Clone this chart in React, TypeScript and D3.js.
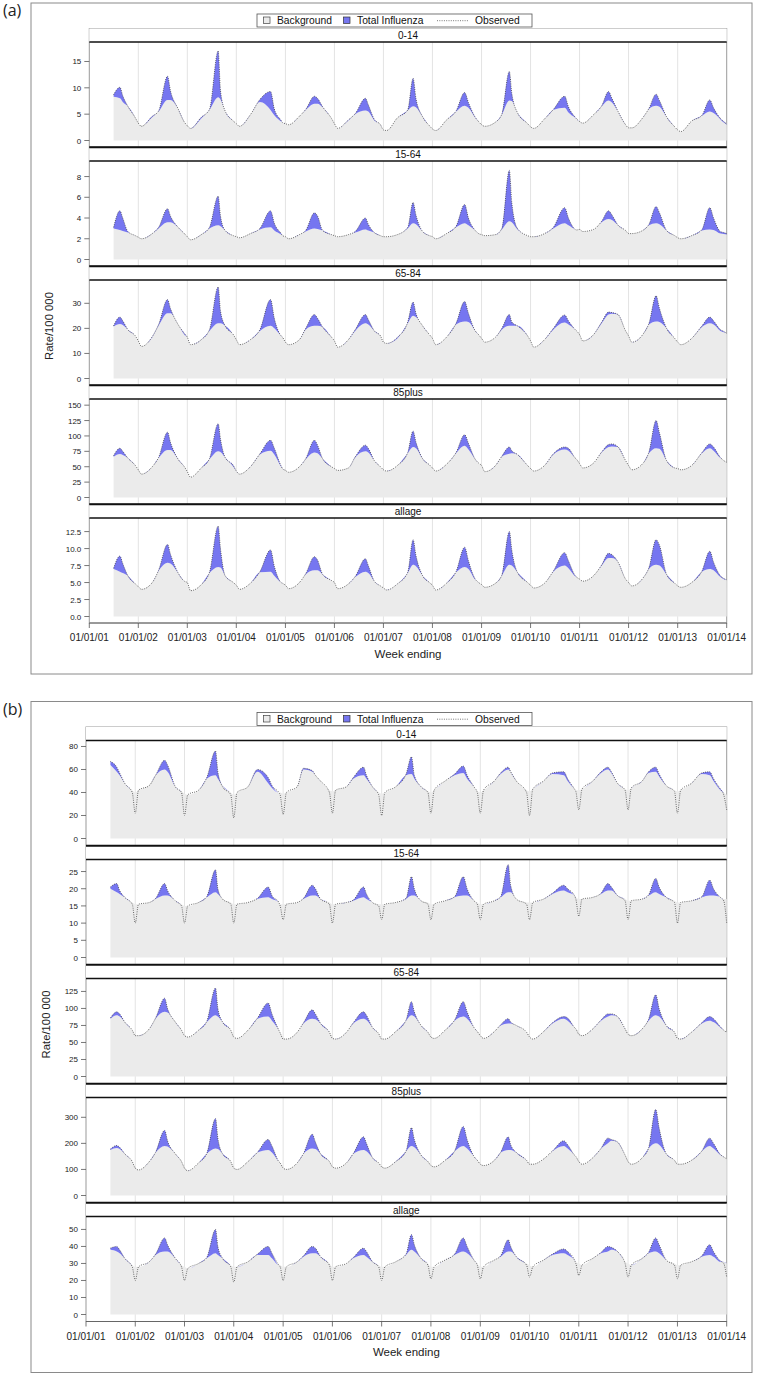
import * as d3 from 'd3';

const parse = d3.timeParse('%Y-%m-%d') as (s: string) => Date;

// flu season key dates: onset, peak, ~3 weeks after peak, end
const seasons = [
  ['2001-07-01', '2001-08-17', '2001-09-07', '2001-10-15'],
  ['2002-06-01', '2002-08-07', '2002-08-28', '2002-10-25'],
  ['2003-06-15', '2003-08-19', '2003-09-05', '2003-10-10'],
  ['2004-06-25', '2004-09-12', '2004-10-10', '2004-11-30'],
  ['2005-06-01', '2005-08-05', '2005-08-28', '2005-10-05'],
  ['2006-06-05', '2006-08-20', '2006-09-10', '2006-10-25'],
  ['2007-07-01', '2007-08-10', '2007-08-31', '2007-10-20'],
  ['2008-06-25', '2008-08-28', '2008-09-25', '2008-11-15'],
  ['2009-06-01', '2009-07-27', '2009-08-14', '2009-09-25'],
  ['2010-06-20', '2010-09-12', '2010-10-10', '2010-11-30'],
  ['2011-06-15', '2011-08-05', '2011-08-30', '2011-10-15'],
  ['2012-06-01', '2012-07-24', '2012-08-18', '2012-10-10'],
  ['2013-07-01', '2013-08-28', '2013-09-25', '2013-11-15'],
];

// sample dates: per year Jan 1, Jan 25, Apr 15, the 4 season dates, Dec 10
const sampleDates: Date[] = (() => {
  const out: string[] = [];
  seasons.forEach((s, i) => {
    const yr = s[1].slice(0, 4);
    if (i > 0) out.push(`${yr}-01-01`, `${yr}-01-25`, `${yr}-04-15`);
    out.push(...s, `${yr}-12-10`);
  });
  out.push('2014-01-01');
  return out.map(parse);
})();

// ---------- figure (a) ----------
const bgA014 = [
  [8.3, 8.0, 7.3, 6.5, 4.4],
  [3.3, 2.8, 4.4, 5.5, 7.7, 7.7, 6.0, 3.6],
  [2.8, 2.3, 4.2, 5.8, 8.2, 7.8, 5.6, 3.7],
  [3.2, 2.7, 4.9, 7.3, 5.8, 4.8, 3.6, 3.4],
  [3.2, 3.0, 4.6, 5.8, 7.0, 7.0, 6.3, 4.2],
  [3.2, 2.3, 3.8, 5.0, 5.7, 5.5, 3.8, 3.0],
  [2.0, 1.9, 4.3, 5.7, 6.5, 6.3, 4.5, 2.8],
  [2.2, 1.9, 3.9, 5.5, 6.6, 6.2, 4.3, 3.6],
  [3.0, 2.7, 3.5, 4.9, 7.6, 7.5, 5.3, 3.2],
  [2.6, 2.3, 4.1, 5.8, 6.2, 5.3, 4.3, 4.1],
  [3.6, 3.3, 4.9, 6.5, 7.6, 7.2, 5.5, 3.0],
  [2.4, 2.4, 4.3, 6.0, 6.6, 6.4, 4.5, 2.6],
  [2.0, 1.7, 3.7, 4.7, 5.5, 5.2, 4.0, 3.4],
  [3.0],
].flat();
const obsA014 = [
  [8.7, 10.1, 8.5, 6.5, 4.3],
  [3.3, 2.7, 4.6, 5.6, 12.2, 9.5, 6.0, 3.5],
  [2.8, 2.3, 4.4, 5.9, 17.0, 9.5, 5.6, 3.7],
  [3.2, 2.7, 4.9, 7.8, 9.3, 6.0, 3.8, 3.4],
  [3.2, 3.0, 4.6, 5.9, 8.4, 8.0, 6.4, 4.2],
  [3.2, 2.3, 3.9, 5.1, 8.0, 6.8, 4.0, 3.0],
  [2.0, 1.9, 4.3, 5.8, 11.8, 8.0, 4.5, 2.8],
  [2.2, 1.9, 3.9, 5.6, 9.1, 7.2, 4.4, 3.6],
  [3.0, 2.7, 3.5, 5.0, 13.1, 9.0, 5.3, 3.2],
  [2.6, 2.3, 4.1, 5.9, 8.4, 6.4, 4.4, 4.1],
  [3.6, 3.3, 4.9, 6.6, 9.3, 8.0, 5.5, 3.0],
  [2.4, 2.4, 4.3, 6.1, 8.8, 7.6, 4.5, 2.6],
  [2.0, 1.7, 3.7, 4.8, 7.7, 6.2, 4.2, 3.6],
  [3.1],
].flat();

const bgA1564 = [
  [3.0, 2.85, 2.75, 2.6, 2.3],
  [2.15, 2.0, 2.5, 3.0, 3.6, 3.6, 3.1, 2.5],
  [2.2, 1.9, 2.4, 3.0, 3.3, 3.2, 2.8, 2.3],
  [2.2, 2.1, 2.5, 2.9, 3.1, 2.8, 2.4, 2.3],
  [2.2, 2.0, 2.4, 2.7, 3.0, 2.95, 2.8, 2.4],
  [2.3, 2.2, 2.4, 2.6, 2.9, 2.8, 2.6, 2.3],
  [2.2, 2.2, 2.4, 3.0, 3.5, 3.4, 2.7, 2.3],
  [2.2, 2.0, 2.5, 3.1, 3.5, 3.3, 2.8, 2.5],
  [2.4, 2.3, 2.4, 2.9, 3.7, 3.6, 2.9, 2.3],
  [2.2, 2.2, 2.5, 3.0, 3.5, 3.3, 2.9, 2.85],
  [2.9, 2.7, 2.9, 3.6, 3.9, 3.8, 3.3, 2.8],
  [2.5, 2.5, 2.8, 3.3, 3.5, 3.4, 2.8, 2.3],
  [2.1, 2.0, 2.3, 2.8, 2.9, 2.85, 2.5, 2.45],
  [2.4],
].flat();
const obsA1564 = [
  [3.1, 4.7, 4.0, 2.7, 2.3],
  [2.15, 2.0, 2.5, 3.1, 4.9, 4.2, 3.1, 2.5],
  [2.2, 1.9, 2.4, 3.1, 6.1, 4.2, 2.8, 2.3],
  [2.2, 2.1, 2.5, 3.0, 4.7, 3.5, 2.5, 2.3],
  [2.2, 2.0, 2.4, 2.8, 4.5, 4.2, 2.8, 2.4],
  [2.3, 2.2, 2.4, 2.7, 4.0, 3.4, 2.6, 2.3],
  [2.2, 2.2, 2.4, 3.1, 5.5, 4.3, 2.7, 2.3],
  [2.2, 2.0, 2.5, 3.2, 5.3, 4.0, 2.8, 2.5],
  [2.4, 2.3, 2.4, 3.0, 8.6, 5.5, 3.0, 2.3],
  [2.2, 2.2, 2.5, 3.1, 5.0, 4.0, 2.9, 2.85],
  [2.9, 2.7, 2.9, 3.7, 4.7, 4.3, 3.3, 2.8],
  [2.5, 2.5, 2.8, 3.4, 5.1, 4.5, 2.8, 2.3],
  [2.1, 2.0, 2.3, 2.9, 5.0, 4.0, 2.7, 2.6],
  [2.5],
].flat();

const bgA6584 = [
  [20.7, 21.7, 21.3, 19.5, 17.0],
  [15.0, 12.8, 16.5, 21, 26, 26, 21.5, 17.5],
  [16.5, 13.5, 15.5, 19, 22, 22, 21, 17.5],
  [15.5, 13.5, 15.5, 19, 21, 20, 17, 16.5],
  [14.5, 13.5, 15.5, 19.5, 21, 21, 20.5, 16.5],
  [15, 12.5, 15.5, 19, 22, 21.5, 19, 17],
  [14.5, 14, 16, 22, 25, 24.5, 21, 17.5],
  [16, 13.5, 16.5, 21.5, 22.7, 22.5, 19, 17.5],
  [16, 14.5, 16.5, 19.5, 21, 21, 21, 17],
  [15, 12.5, 15.5, 19.5, 22.3, 21.5, 19.5, 19],
  [17.5, 15, 17.5, 22, 25.5, 25.8, 25.5, 19],
  [17, 14.5, 17.5, 21.5, 22.7, 22.5, 20, 16],
  [14.5, 13.5, 16, 20.5, 22, 21.5, 19, 18.5],
  [18],
].flat();
const obsA6584 = [
  [21, 24.5, 23, 19.5, 17.0],
  [15.0, 12.8, 16.7, 21.5, 31.5, 28, 21.5, 18],
  [16.5, 13.5, 15.5, 19.5, 36.5, 27, 21, 17.5],
  [15.5, 13.5, 15.5, 19.5, 31.5, 24, 17, 16.5],
  [14.5, 13.5, 15.5, 20, 25.5, 24, 20.5, 16.5],
  [15, 12.5, 15.5, 19.5, 25.5, 23.5, 19, 17],
  [14.5, 14, 16.4, 22.5, 30.5, 26, 21, 17.5],
  [16, 13.5, 16.5, 22, 30.7, 26, 19, 17.5],
  [16, 14.5, 16.5, 20, 25.5, 22.5, 21, 17],
  [15, 12.5, 15.5, 20, 25.3, 23, 19.5, 19],
  [17.5, 15, 17.5, 22.5, 26.5, 26.3, 25.5, 19],
  [17, 14.5, 17.5, 22, 33, 28, 20, 16],
  [14.5, 13.5, 16, 21, 24.5, 23, 19.5, 18.8],
  [18],
].flat();

const bgA85 = [
  [66, 70.5, 69, 64, 52],
  [45, 38, 50, 64, 77, 77, 62, 50],
  [42, 33, 48, 62, 75, 74, 65, 50],
  [43, 38, 50, 70, 76, 70, 50, 47],
  [44, 41, 50, 62, 73, 72, 63, 50],
  [47, 44, 48, 65, 75, 73, 60, 50],
  [45, 43, 52, 72, 82, 80, 63, 53],
  [48, 43, 54, 72, 84, 78, 62, 56],
  [52, 42, 52, 66, 71, 72, 70, 52],
  [47, 43, 52, 70, 78, 76, 64, 62],
  [55, 48, 56, 73, 82, 83, 82, 60],
  [52, 45, 55, 72, 80, 79, 60, 48],
  [47, 45, 52, 72, 80, 76, 64, 60],
  [57],
].flat();
const obsA85 = [
  [68, 80, 75, 64, 52],
  [45, 38, 50, 65, 106, 90, 62, 50],
  [42, 33, 48, 63, 120, 95, 65, 52],
  [43, 38, 50, 71, 93, 80, 51, 47],
  [44, 41, 50, 63, 93, 85, 63, 50],
  [47, 44, 48, 66, 85, 80, 60, 50],
  [45, 43, 52, 73, 108, 90, 63, 53],
  [48, 43, 54, 73, 102, 88, 62, 56],
  [52, 42, 52, 67, 82, 76, 70, 52],
  [47, 43, 52, 71, 82, 80, 64, 62],
  [55, 48, 56, 74, 86, 87, 82, 60],
  [52, 45, 55, 74, 125, 105, 60, 48],
  [47, 45, 52, 73, 87, 82, 65, 60],
  [57],
].flat();

const bgAall = [
  [7.0, 6.6, 6.4, 6.0, 4.8],
  [4.4, 4.0, 5.0, 6.7, 7.9, 7.8, 6.4, 5.2],
  [5.0, 3.8, 4.7, 6.4, 7.3, 7.2, 6.0, 5.0],
  [4.6, 4.0, 4.9, 6.5, 6.6, 6.0, 5.0, 4.9],
  [4.6, 4.1, 5.0, 6.2, 6.8, 6.8, 6.2, 5.3],
  [5.0, 4.1, 4.8, 5.8, 6.6, 6.4, 5.2, 4.5],
  [4.2, 3.9, 4.8, 6.4, 7.6, 7.4, 6.0, 5.0],
  [4.6, 3.9, 4.9, 6.5, 7.3, 7.0, 5.4, 5.0],
  [4.7, 4.3, 4.9, 6.0, 7.6, 7.5, 6.5, 5.0],
  [4.6, 4.2, 4.9, 6.6, 7.5, 7.1, 5.9, 5.8],
  [5.5, 5.2, 6.0, 7.5, 8.6, 8.6, 8.0, 5.5],
  [5.0, 4.5, 5.6, 7.0, 7.6, 7.5, 6.2, 4.9],
  [4.5, 4.3, 5.0, 6.6, 7.0, 6.8, 5.8, 5.5],
  [5.4],
].flat();
const obsAall = [
  [7.1, 8.9, 7.8, 6.0, 4.8],
  [4.4, 4.0, 5.0, 6.8, 10.6, 9.2, 6.4, 5.2],
  [5.0, 3.8, 4.7, 6.5, 13.3, 10.0, 6.0, 5.0],
  [4.6, 4.0, 4.9, 6.6, 9.8, 7.4, 5.0, 4.9],
  [4.6, 4.1, 5.0, 6.3, 8.8, 8.3, 6.2, 5.3],
  [5.0, 4.1, 4.8, 5.9, 8.5, 7.5, 5.2, 4.5],
  [4.2, 3.9, 4.8, 6.5, 11.3, 9.0, 6.0, 5.0],
  [4.6, 3.9, 4.9, 6.6, 10.2, 8.2, 5.5, 5.0],
  [4.7, 4.3, 4.9, 6.1, 12.5, 9.8, 6.5, 5.0],
  [4.6, 4.2, 4.9, 6.7, 9.4, 8.2, 6.0, 5.8],
  [5.5, 5.2, 6.0, 7.6, 9.3, 9.1, 8.0, 5.5],
  [5.0, 4.5, 5.6, 7.2, 11.3, 10.5, 6.2, 4.9],
  [4.5, 4.3, 5.0, 6.7, 9.6, 8.0, 6.0, 5.6],
  [5.4],
].flat();

// ---------- figure (b) ----------
const bgB014 = [
  [64, 58, 55, 48, 42],
  [40, 42, 47, 55, 60, 58, 45, 41],
  [39, 38, 42, 52, 55, 52, 46, 40],
  [38, 40, 45, 58, 48, 44, 40, 40],
  [39, 40, 45, 60, 58, 55, 50, 42],
  [41, 42, 45, 52, 55, 52, 45, 40],
  [39, 40, 45, 55, 56, 52, 45, 41],
  [40, 42, 50, 55, 57, 52, 45, 41],
  [40, 42, 50, 56, 60, 58, 50, 42],
  [41, 43, 50, 56, 55, 50, 43, 42],
  [42, 43, 50, 57, 60, 57, 48, 43],
  [42, 44, 50, 57, 58, 54, 46, 42],
  [41, 42, 48, 56, 55, 50, 42, 40],
  [38],
].flat();
const obsB014 = [
  [67, 62, 57, 48, 40],
  [22, 42, 46, 55, 68, 64, 45, 40],
  [20, 38, 42, 53, 76, 58, 45, 38],
  [18, 40, 45, 60, 53, 46, 40, 38],
  [21, 40, 45, 61, 59, 55, 50, 40],
  [22, 42, 45, 53, 62, 55, 45, 38],
  [20, 40, 45, 56, 71, 55, 45, 40],
  [22, 42, 50, 56, 63, 55, 45, 40],
  [22, 42, 50, 57, 62, 58, 50, 40],
  [20, 43, 50, 57, 58, 52, 43, 41],
  [25, 43, 50, 58, 62, 58, 48, 42],
  [25, 44, 50, 58, 62, 56, 46, 41],
  [22, 42, 48, 57, 58, 52, 43, 38],
  [25],
].flat();

const bgB1564 = [
  [20, 19, 18.5, 17.5, 16],
  [15.5, 15.5, 16, 17, 18, 18, 16.5, 15.5],
  [15, 15, 16, 17.5, 19, 18.5, 17, 16],
  [15.5, 15.5, 16, 17, 17.5, 17, 16, 15.5],
  [15.5, 15.5, 16, 17, 18, 18, 17, 16],
  [15.5, 15.5, 16, 16.5, 17.5, 17, 16, 15.5],
  [15.5, 15.5, 16, 17, 18, 18, 16.5, 16],
  [15.5, 15.5, 16.5, 17.5, 18, 18, 16.5, 16],
  [15.5, 15.5, 16.5, 17.5, 19, 19, 17, 16],
  [16, 16, 17, 18.5, 19.5, 19, 18, 17.5],
  [17, 17, 17.5, 18.5, 19.5, 19.5, 18, 17],
  [16.5, 16.5, 17, 18, 19, 18.5, 17.5, 16.5],
  [16, 16, 16.5, 17.5, 18, 18, 17.5, 17],
  [17],
].flat();
const obsB1564 = [
  [20.5, 21.5, 19.5, 17.5, 15.5],
  [10, 15.5, 16, 17.2, 21.5, 19.5, 16.5, 15],
  [10, 15, 16, 17.7, 25.5, 20, 17, 15.5],
  [10, 15.5, 16, 17.2, 20.5, 18, 16, 15],
  [11, 15.5, 16, 17.2, 21, 20, 17, 15.5],
  [10, 15.5, 16, 16.7, 20.5, 18.5, 16, 15],
  [11, 15.5, 16, 17.2, 23.5, 20, 16.5, 15.5],
  [11, 15.5, 16.5, 17.7, 23.5, 20, 16.5, 15.5],
  [11, 15.5, 16.5, 17.7, 27, 21, 17, 15.5],
  [11, 16, 17, 18.7, 21, 20, 18, 17],
  [12, 17, 17.5, 18.7, 21.5, 20.5, 18, 16.5],
  [11, 16.5, 17, 18.2, 23, 20.5, 17.5, 16],
  [10, 16, 16.5, 17.7, 22.5, 20, 17.5, 16.5],
  [10],
].flat();

const bgB6584 = [
  [85, 90, 88, 80, 68],
  [62, 60, 70, 85, 95, 94, 80, 68],
  [62, 58, 68, 80, 90, 88, 80, 68],
  [60, 56, 68, 85, 88, 82, 68, 64],
  [58, 55, 65, 78, 85, 84, 78, 65],
  [58, 55, 65, 78, 85, 83, 72, 63],
  [57, 55, 66, 82, 90, 88, 75, 65],
  [60, 56, 68, 82, 88, 85, 72, 66],
  [62, 56, 66, 75, 78, 78, 75, 65],
  [60, 55, 66, 78, 85, 82, 72, 70],
  [65, 60, 70, 82, 88, 90, 88, 70],
  [65, 60, 70, 82, 90, 88, 75, 65],
  [58, 55, 65, 78, 82, 80, 72, 68],
  [65],
].flat();
const obsB6584 = [
  [86, 95, 92, 80, 68],
  [60, 60, 70, 86, 115, 100, 80, 68],
  [60, 58, 68, 81, 130, 100, 80, 68],
  [58, 56, 68, 86, 108, 92, 68, 64],
  [55, 55, 65, 79, 98, 92, 78, 65],
  [56, 55, 65, 79, 95, 90, 72, 63],
  [55, 55, 66, 83, 110, 95, 75, 65],
  [58, 56, 68, 83, 110, 95, 72, 66],
  [60, 56, 66, 76, 85, 80, 75, 65],
  [58, 55, 66, 79, 88, 86, 72, 70],
  [62, 60, 70, 83, 92, 92, 88, 70],
  [62, 60, 70, 84, 120, 100, 75, 65],
  [56, 55, 65, 79, 88, 85, 73, 68],
  [65],
].flat();

const bgB85 = [
  [175, 182, 178, 160, 130],
  [110, 98, 130, 165, 190, 188, 160, 130],
  [110, 95, 125, 160, 180, 178, 160, 130],
  [110, 100, 130, 165, 175, 165, 130, 125],
  [110, 100, 125, 160, 180, 178, 160, 130],
  [115, 105, 125, 160, 175, 170, 145, 125],
  [115, 105, 130, 170, 190, 185, 155, 130],
  [120, 110, 135, 170, 190, 180, 150, 135],
  [125, 115, 135, 165, 175, 175, 165, 135],
  [125, 120, 140, 170, 190, 180, 155, 150],
  [135, 120, 145, 180, 200, 210, 205, 155],
  [135, 120, 145, 180, 200, 195, 160, 135],
  [125, 120, 135, 170, 190, 180, 155, 148],
  [140],
].flat();
const obsB85 = [
  [178, 192, 185, 160, 130],
  [105, 98, 130, 166, 250, 210, 160, 130],
  [105, 95, 125, 161, 295, 220, 160, 130],
  [105, 100, 130, 166, 215, 190, 130, 125],
  [105, 100, 125, 161, 235, 205, 160, 130],
  [110, 105, 125, 161, 225, 200, 145, 125],
  [110, 105, 130, 171, 260, 215, 155, 130],
  [115, 110, 135, 171, 265, 215, 150, 135],
  [120, 115, 135, 166, 225, 195, 165, 135],
  [120, 120, 140, 171, 210, 195, 155, 150],
  [130, 120, 145, 181, 220, 215, 205, 155],
  [130, 120, 145, 182, 330, 260, 160, 135],
  [120, 120, 135, 171, 220, 200, 157, 148],
  [140],
].flat();

const bgBall = [
  [38, 37, 36, 33, 29],
  [28, 28, 31, 35, 37, 37, 33, 29],
  [28, 27, 30, 33, 36, 35, 33, 29],
  [28, 28, 31, 35, 35, 33, 29, 29],
  [28, 28, 31, 34, 36, 36, 34, 30],
  [28, 28, 30, 33, 35, 34, 31, 29],
  [28, 28, 31, 35, 38, 37, 33, 30],
  [28, 28, 32, 35, 37, 36, 32, 30],
  [28, 28, 32, 34, 37, 37, 34, 30],
  [29, 28, 32, 35, 36, 35, 32, 31],
  [30, 29, 33, 36, 37, 38, 37, 31],
  [30, 29, 33, 36, 37, 36, 32, 30],
  [29, 29, 31, 34, 35, 34, 31, 31],
  [30],
].flat();
const obsBall = [
  [39, 40, 38, 33, 28],
  [20, 28, 31, 35.5, 45, 41, 33, 28],
  [20, 27, 30, 33.5, 50, 40, 33, 28],
  [19, 28, 31, 35.5, 40, 36, 29, 28],
  [20, 28, 31, 34.5, 40, 39, 34, 29],
  [20, 28, 30, 33.5, 39, 37, 31, 28],
  [20, 28, 31, 35.5, 47, 41, 33, 29],
  [21, 28, 32, 35.5, 45, 40, 32, 29],
  [21, 28, 32, 34.5, 44, 40, 34, 29],
  [22, 28, 32, 35.5, 38.5, 37, 32, 30],
  [23, 29, 33, 36.5, 40, 39.5, 37, 30],
  [22, 29, 33, 36.5, 45, 41, 32, 29],
  [21, 29, 31, 34.5, 41, 37, 31.5, 30],
  [22],
].flat();

const groups = ['0-14', '15-64', '65-84', '85plus', 'allage'];
const yTicksA = [[0, 5, 10, 15], [0, 2, 4, 6, 8], [0, 10, 20, 30], [0, 25, 50, 75, 100, 125, 150], [0, 2.5, 5, 7.5, 10, 12.5]];
const yTicksB = [[0, 20, 40, 60, 80], [0, 5, 10, 15, 20, 25], [0, 25, 50, 75, 100, 125], [0, 100, 200, 300], [0, 10, 20, 30, 40, 50]];
const yMaxA = [18.7, 9.5, 39.3, 160, 14.5];
const yMaxB = [85.2, 28.5, 144, 376, 57.6];
const xTickYears = d3.range(2001, 2015);

const FONT = '"Liberation Sans", Arial, sans-serif';
const BG_FILL = '#ebebeb';
const FLU_FILL = '#7676f0';

interface PanelDef { name: string; max: number; ticks: number[]; fmt: (v: number) => string; bg: number[]; obs: number[] }
interface FigDef { label: string; oy: number; left: number; right: number; zeroOff: number; panels: PanelDef[] }

const figA: FigDef = {
  label: '(a)', oy: 0, left: 89.3, right: 726.7, zeroOff: 6.5,
  panels: [
    [bgA014, obsA014], [bgA1564, obsA1564], [bgA6584, obsA6584], [bgA85, obsA85], [bgAall, obsAall],
  ].map(([bg, obs], i) => ({
    name: groups[i], max: yMaxA[i], ticks: yTicksA[i],
    fmt: i === 4 ? d3.format('.1f') : d3.format('d'), bg, obs,
  })),
};
const figB: FigDef = {
  label: '(b)', oy: 698.5, left: 86, right: 726.7, zeroOff: 7,
  panels: [
    [bgB014, obsB014], [bgB1564, obsB1564], [bgB6584, obsB6584], [bgB85, obsB85], [bgBall, obsBall],
  ].map(([bg, obs], i) => ({
    name: groups[i], max: yMaxB[i], ticks: yTicksB[i], fmt: d3.format('d'), bg, obs,
  })),
};

const PANEL_TOPS = [42, 161, 280, 399, 518];
const PANEL_H = 105;
const STRIP_H = 13.5;

function Figure({ fig }: { fig: FigDef }) {
  const { oy, left, right } = fig;
  const x = d3.scaleTime().domain([parse('2001-01-01'), parse('2014-01-01')]).range([left, right]);
  const xTicks = xTickYears.map(y => new Date(y, 0, 1));
  const axisY = oy + PANEL_TOPS[4] + PANEL_H;
  const cx = (left + right) / 2;

  return (
    <g>
      <rect x={31} y={oy + 3} width={721} height={671} fill="none" stroke="#8a8a8a" strokeWidth={1} />
      <text x={3} y={oy + 16} fontSize={16} fontFamily='"Open Sans", sans-serif' fill="#222">{fig.label}</text>

      {/* legend */}
      <g fontFamily={FONT} fontSize={10.3} fill="#111">
        <rect x={257} y={oy + 14} width={275} height={13} fill="#fff" stroke="#555" strokeWidth={0.8} />
        <rect x={263.5} y={oy + 17} width={6.5} height={6.5} fill={BG_FILL} stroke="#444" strokeWidth={0.7} />
        <text x={277} y={oy + 24.2}>Background</text>
        <rect x={343.5} y={oy + 17} width={6.5} height={6.5} fill={FLU_FILL} stroke="#333" strokeWidth={0.7} />
        <text x={357} y={oy + 24.2}>Total Influenza</text>
        <line x1={437} x2={468} y1={oy + 20.7} y2={oy + 20.7} stroke="#555" strokeWidth={0.8} strokeDasharray="1 1.3" />
        <text x={475} y={oy + 24.2}>Observed</text>
      </g>

      {/* frame */}
      <rect x={left} y={oy + PANEL_TOPS[0] - STRIP_H} width={right - left} height={axisY - (oy + PANEL_TOPS[0] - STRIP_H)}
        fill="none" stroke="#9a9a9a" strokeWidth={1} />

      {fig.panels.map((p, i) => {
        const top = oy + PANEL_TOPS[i];
        const bottom = top + PANEL_H;
        const y = d3.scaleLinear().domain([0, p.max]).range([bottom - fig.zeroOff, top]);
        const pts = sampleDates.map((d, k) => ({ d, b: p.bg[k], o: p.obs[k] }));
        type P = typeof pts[number];
        const bgArea = d3.area<P>().x(d => x(d.d)).y0(y(0)).y1(d => y(d.b)).curve(d3.curveMonotoneX);
        const fluArea = d3.area<P>().x(d => x(d.d)).y0(d => y(d.b)).y1(d => y(Math.max(d.b, d.o))).curve(d3.curveMonotoneX);
        const obsLine = d3.line<P>().x(d => x(d.d)).y(d => y(d.o)).curve(d3.curveMonotoneX);
        return (
          <g key={p.name}>
            {xTicks.slice(1, -1).map((t, k) => (
              <line key={k} x1={x(t)} x2={x(t)} y1={top} y2={bottom} stroke="#e3e3e3" strokeWidth={1} />
            ))}
            <path d={bgArea(pts) ?? ''} fill={BG_FILL} />
            <path d={fluArea(pts) ?? ''} fill={FLU_FILL} />
            <path d={obsLine(pts) ?? ''} fill="none" stroke="#3a3a3a" strokeWidth={0.8} strokeDasharray="0.9 1.3" />
            {/* strip header */}
            <rect x={left} y={top - STRIP_H} width={right - left} height={STRIP_H} fill="#fff" />
            <text x={cx} y={top - 3} textAnchor="middle" fontFamily={FONT} fontSize={10} fill="#111">{p.name}</text>
            <line x1={left} x2={right} y1={top} y2={top} stroke="#111" strokeWidth={1.5} />
            {i < 4 && <line x1={left} x2={right} y1={bottom} y2={bottom} stroke="#111" strokeWidth={1.5} />}
            {i > 0 && <line x1={left} x2={right} y1={top - STRIP_H} y2={top - STRIP_H} stroke="#111" strokeWidth={1.5} />}
            {/* y axis */}
            <g fontFamily={FONT} fontSize={8} fill="#222">
              {p.ticks.map(t => (
                <g key={t}>
                  <line x1={left - 5} x2={left} y1={y(t)} y2={y(t)} stroke="#555" strokeWidth={0.8} />
                  <text x={left - 8} y={y(t) + 3} textAnchor="end">{p.fmt(t)}</text>
                </g>
              ))}
            </g>
          </g>
        );
      })}

      {/* x axis */}
      <line x1={left} x2={right} y1={axisY} y2={axisY} stroke="#666" strokeWidth={1} />
      <g fontFamily={FONT} fontSize={10} fill="#222">
        {xTicks.map((t, k) => (
          <g key={k}>
            <line x1={x(t)} x2={x(t)} y1={axisY} y2={axisY + 5} stroke="#555" strokeWidth={0.8} />
            <text x={x(t)} y={axisY + 18} textAnchor="middle">{d3.timeFormat('%m/%d/%y')(t)}</text>
          </g>
        ))}
      </g>
      <text x={cx} y={axisY + 34.5} textAnchor="middle" fontFamily={FONT} fontSize={11.5} fill="#222">Week ending</text>
      <text transform={`translate(${left - 36},${oy + 326}) rotate(-90)`} textAnchor="middle" fontFamily={FONT} fontSize={11.3} fill="#222">Rate/100 000</text>
    </g>
  );
}

export default function App() {
  return (
    <svg width={761} height={1376} style={{ position: 'absolute', left: 0, top: 0, background: '#fff' }}>
      <rect width={761} height={1376} fill="#fff" />
      <Figure fig={figA} />
      <Figure fig={figB} />
    </svg>
  );
}
